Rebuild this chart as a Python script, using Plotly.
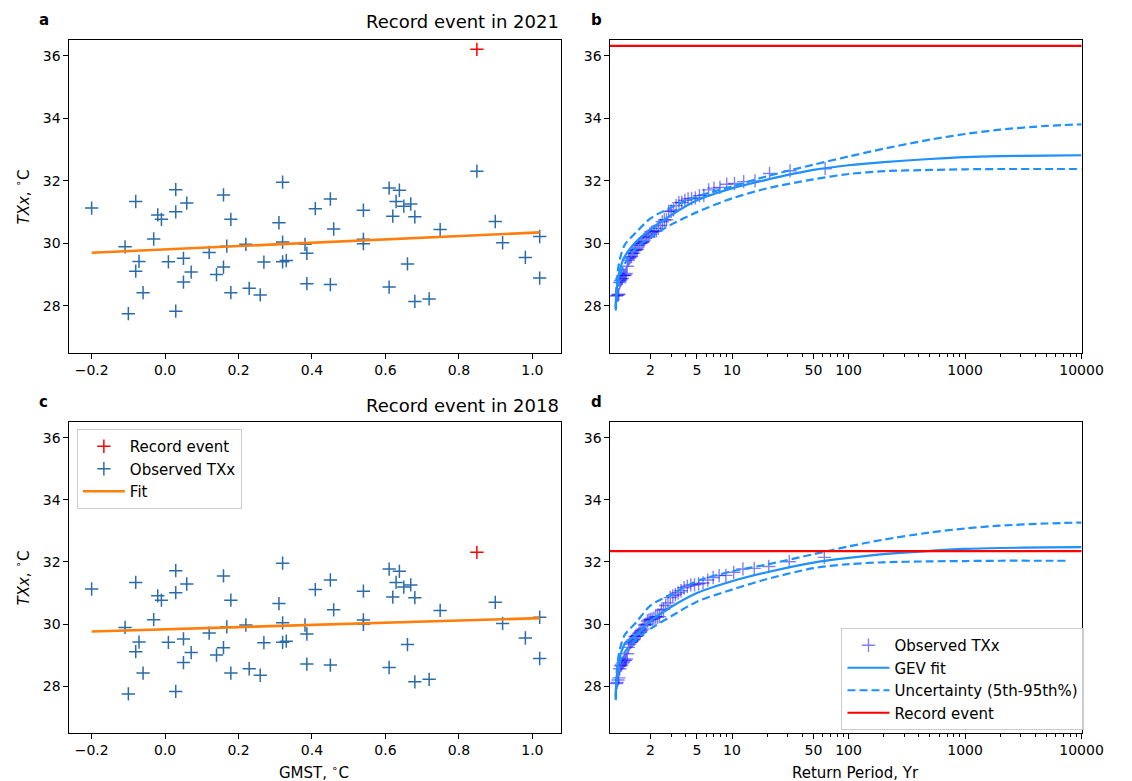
import plotly.graph_objects as go

# ---------------- data ----------------
gmst = [-0.200, -0.109, -0.100, -0.080, -0.080, -0.071, -0.060, -0.031, -0.020, -0.010,
        0.009, 0.029, 0.029, 0.029, 0.050, 0.050, 0.059, 0.071, 0.120, 0.140,
        0.159, 0.159, 0.168, 0.179, 0.179, 0.220, 0.229, 0.259, 0.269, 0.310,
        0.320, 0.320, 0.320, 0.330, 0.381, 0.386, 0.386, 0.409, 0.450, 0.459,
        0.450, 0.540, 0.540, 0.540, 0.610, 0.620, 0.610, 0.638, 0.629, 0.650,
        0.669, 0.680, 0.660, 0.680, 0.719, 0.749, 0.849, 0.899, 0.919, 0.981,
        1.020, 1.020]
txx = [31.13, 29.89, 27.75, 31.34, 29.11, 29.42, 28.42, 30.14, 30.91, 30.77,
       29.41, 31.72, 31.01, 27.83, 29.52, 28.76, 31.29, 29.08, 29.71, 29.00,
       31.55, 29.24, 29.91, 30.77, 28.42, 29.97, 28.56, 28.35, 29.40, 30.66,
       31.96, 30.04, 29.41, 29.45, 29.97, 29.68, 28.71, 31.11, 31.42, 30.46,
       28.68, 31.06, 30.13, 29.99, 31.77, 30.87, 28.60, 31.70, 31.34, 31.19,
       31.26, 30.85, 29.34, 28.14, 28.22, 30.44, 32.31, 30.70, 30.02, 29.55,
       30.22, 28.89]

record_2021_gmst = 0.849
record_2021_txx = 36.21
record_2018_idx = 56          # the 2018 record is one of the observed years

fit_gmst = [-0.2, 1.02]
fit_2021 = [29.70, 30.35]
fit_2018 = [29.76, 30.19]
ref_gmst_2021 = 1.0
ref_gmst_2018 = 0.85

rp = [1.005, 1.01, 1.02, 1.05, 1.1, 1.2, 1.5, 2, 3, 5, 10, 20, 50, 100, 200, 500,
      1000, 2000, 5000, 10000]
gev_2021 = [27.9, 28.15, 28.45, 28.85, 29.2, 29.58, 30.05, 30.45, 30.9, 31.38, 31.76,
            32.04, 32.35, 32.50, 32.60, 32.70, 32.76, 32.79, 32.81, 32.82]
gev_2021_hi = [27.95, 28.3, 28.65, 29.15, 29.55, 29.95, 30.35, 30.8, 31.15, 31.5, 31.82,
               32.15, 32.52, 32.78, 33.03, 33.32, 33.5, 33.64, 33.76, 33.81]
gev_2021_lo = [27.85, 28.05, 28.3, 28.65, 29.0, 29.35, 29.85, 30.2, 30.6, 31.0, 31.44,
               31.76, 32.05, 32.22, 32.31, 32.35, 32.37, 32.38, 32.38, 32.38]
gev_2018 = [27.6, 27.9, 28.2, 28.65, 29.0, 29.35, 29.65, 30.1, 30.55, 31.0, 31.38,
            31.67, 31.98, 32.13, 32.25, 32.36, 32.42, 32.45, 32.47, 32.48]
gev_2018_hi = [27.65, 28.0, 28.35, 28.85, 29.25, 29.65, 30.05, 30.6, 30.95, 31.38, 31.7,
               31.92, 32.25, 32.5, 32.72, 32.95, 33.08, 33.17, 33.24, 33.27]
rp_2018_lo = [1.005, 1.01, 1.02, 1.05, 1.1, 1.2, 1.5, 2, 3, 5, 10, 20, 50, 100, 200, 500,
              1000, 2000, 5000, 7500]
gev_2018_lo = [27.55, 27.8, 28.05, 28.45, 28.8, 29.1, 29.5, 29.85, 30.25, 30.72, 31.11,
               31.45, 31.8, 31.93, 31.99, 32.02, 32.03, 32.04, 32.04, 32.04]

record_line_2021 = 36.32
record_line_2018 = 32.35

x_ticks = [-0.2, 0.0, 0.2, 0.4, 0.6, 0.8, 1.0]
x_ticktext = ["\u22120.2", "0.0", "0.2", "0.4", "0.6", "0.8", "1.0"]
y_ticks = [28, 30, 32, 34, 36]
rp_ticks = [2, 5, 10, 50, 100, 1000, 10000]
rp_ticktext = ["2", "5", "10", "50", "100", "1000", "10000"]


# ---------------- helpers ----------------
def empirical_rp(g, t, fx, fy, ref):
    slope = (fy[1] - fy[0]) / (fx[1] - fx[0])
    adj = sorted([ti + slope * (ref - gi) for gi, ti in zip(g, t)], reverse=True)
    n = len(adj)
    return [(n + 1) / (k + 1) for k in range(n)], adj


gmst_2018 = [g for i, g in enumerate(gmst) if i != record_2018_idx]
txx_2018 = [t for i, t in enumerate(txx) if i != record_2018_idx]

rp_obs_2021, val_obs_2021 = empirical_rp(gmst, txx, fit_gmst, fit_2021, ref_gmst_2021)
rp_obs_2018, val_obs_2018 = empirical_rp(gmst_2018, txx_2018, fit_gmst, fit_2018, ref_gmst_2018)

W, H = 1132, 781
WX = 1112          # horizontal positions as they end up in the rendered page
FONT = "DejaVu Sans"
C_OBS = "#2b6ca8"
C_FIT = "#ff7f0e"
C_GEV = "#1e90ff"
C_RP_OBS = "rgba(0,0,255,0.5)"
DASH = "8px,4px"
MS = 9.5
MW = 1.5

fig = go.Figure()

# ---- panel a ----
fig.add_trace(go.Scatter(x=gmst, y=txx, mode="markers", xaxis="x", yaxis="y", showlegend=False,
                         marker=dict(symbol="cross-thin", size=MS, line=dict(width=MW, color=C_OBS))))
fig.add_trace(go.Scatter(x=[record_2021_gmst], y=[record_2021_txx], mode="markers", xaxis="x", yaxis="y",
                         showlegend=False,
                         marker=dict(symbol="cross-thin", size=MS, line=dict(width=MW, color="red"))))
fig.add_trace(go.Scatter(x=fit_gmst, y=fit_2021, mode="lines", xaxis="x", yaxis="y", showlegend=False,
                         line=dict(color=C_FIT, width=2.6)))

# ---- panel c ----
fig.add_trace(go.Scatter(x=[gmst[record_2018_idx]], y=[txx[record_2018_idx]], mode="markers",
                         xaxis="x3", yaxis="y3", name="Record event", legend="legend",
                         marker=dict(symbol="cross-thin", size=MS, line=dict(width=MW, color="red"))))
fig.add_trace(go.Scatter(x=gmst_2018, y=txx_2018, mode="markers", xaxis="x3", yaxis="y3",
                         name="Observed TXx", legend="legend",
                         marker=dict(symbol="cross-thin", size=MS, line=dict(width=MW, color=C_OBS))))
fig.add_trace(go.Scatter(x=fit_gmst, y=fit_2018, mode="lines", xaxis="x3", yaxis="y3", name="Fit",
                         legend="legend", line=dict(color=C_FIT, width=2.6)))


def rp_panel(xa, ya, rps, vals, fit, hi, lo, rp_lo, show):
    fig.add_trace(go.Scatter(x=rps, y=vals, mode="markers", xaxis=xa, yaxis=ya, name="Observed TXx",
                             legend="legend2", showlegend=show,
                             marker=dict(symbol="cross-thin", size=MS,
                                         line=dict(width=1.4, color=C_RP_OBS))))
    fig.add_trace(go.Scatter(x=rp, y=fit, mode="lines", xaxis=xa, yaxis=ya, name="GEV fit",
                             legend="legend2", showlegend=show,
                             line=dict(color=C_GEV, width=2.2, shape="spline", smoothing=0.8)))
    fig.add_trace(go.Scatter(x=rp, y=hi, mode="lines", xaxis=xa, yaxis=ya,
                             name="Uncertainty (5th-95th%)", legend="legend2", showlegend=show,
                             line=dict(color=C_GEV, width=2.2, dash=DASH, shape="spline", smoothing=0.8)))
    fig.add_trace(go.Scatter(x=rp_lo, y=lo, mode="lines", xaxis=xa, yaxis=ya, showlegend=False,
                             legend="legend2",
                             line=dict(color=C_GEV, width=2.2, dash=DASH, shape="spline", smoothing=0.8)))


rp_panel("x2", "y2", rp_obs_2021, val_obs_2021, gev_2021, gev_2021_hi, gev_2021_lo, rp, False)
rp_panel("x4", "y4", rp_obs_2018, val_obs_2018, gev_2018, gev_2018_hi, gev_2018_lo, rp_2018_lo, True)
fig.add_trace(go.Scatter(x=[None], y=[None], mode="lines", xaxis="x4", yaxis="y4", name="Record event",
                         legend="legend2", line=dict(color="red", width=2.2)))

fig.add_shape(type="line", xref="x2 domain", x0=0, x1=1, yref="y2", y0=record_line_2021,
              y1=record_line_2021, line=dict(color="red", width=2.2))
fig.add_shape(type="line", xref="x4 domain", x0=0, x1=1, yref="y4", y0=record_line_2018,
              y1=record_line_2018, line=dict(color="red", width=2.2))

# ---------------- layout ----------------
xL = [69 / WX, 562 / WX]
xR = [611 / WX, 1103 / W]     # right edge kept so the "10000" label stays inside the page
yT = [1 - 353 / H, 1 - 40 / H]
yB = [1 - 733 / H, 1 - 422 / H]

common = dict(showline=True, mirror=True, linecolor="black", linewidth=1, ticks="outside",
              ticklen=4.5, tickwidth=1, tickcolor="black", showgrid=False, zeroline=False,
              tickfont=dict(family=FONT, size=14, color="black"))

lin_x = dict(common, range=[-0.262, 1.078], tickmode="array", tickvals=x_ticks, ticktext=x_ticktext)
minor_vals = [k * d for d in (1, 10, 100, 1000) for k in range(2, 10) if k * d not in rp_ticks]
log_x = dict(common, type="log", range=[-0.048, 4.0], tickmode="array", tickvals=rp_ticks,
             ticktext=rp_ticktext,
             minor=dict(ticks="outside", ticklen=2.5, tickcolor="black", tickmode="array",
                        tickvals=minor_vals))
yax = dict(common, range=[26.49, 36.51], tickmode="array", tickvals=y_ticks)

fig.update_layout(
    width=W, height=H, margin=dict(l=0, r=0, t=0, b=0), autosize=False,
    paper_bgcolor="white", plot_bgcolor="white",
    font=dict(family=FONT, size=14, color="black"),
    xaxis=dict(lin_x, domain=xL, anchor="y"),
    yaxis=dict(yax, domain=yT, anchor="x"),
    xaxis2=dict(log_x, domain=xR, anchor="y2"),
    yaxis2=dict(yax, domain=yT, anchor="x2"),
    xaxis3=dict(lin_x, domain=xL, anchor="y3"),
    yaxis3=dict(yax, domain=yB, anchor="x3"),
    xaxis4=dict(log_x, domain=xR, anchor="y4"),
    yaxis4=dict(yax, domain=yB, anchor="x4"),
    legend=dict(x=77 / WX, y=1 - 429 / H, xanchor="left", yanchor="top", itemwidth=42,
                bgcolor="rgba(255,255,255,0.8)", bordercolor="#cccccc", borderwidth=1,
                font=dict(family=FONT, size=15, color="black"), tracegroupgap=0),
    legend2=dict(x=843 / WX, y=1 - 628 / H, xanchor="left", yanchor="top", itemwidth=42,
                 bgcolor="rgba(255,255,255,0.8)", bordercolor="#cccccc", borderwidth=1,
                 font=dict(family=FONT, size=15, color="black"), tracegroupgap=0),
)

ann = []
for txt, x, y in [("a", 37, 20), ("b", 590, 20), ("c", 37, 402), ("d", 590, 402)]:
    ann.append(dict(text="<b>%s</b>" % txt, x=x / WX, y=1 - y / H, xref="paper", yref="paper",
                    xanchor="left", yanchor="middle", showarrow=False,
                    font=dict(family=FONT, size=15, color="black")))
for txt, y in [("Record event in 2021", 22), ("Record event in 2018", 405)]:
    ann.append(dict(text=txt, x=562 / WX, y=1 - y / H, xref="paper", yref="paper", xanchor="right",
                    yanchor="middle", showarrow=False, font=dict(family=FONT, size=18, color="black")))
for y in [196.5, 577.5]:
    ann.append(dict(text="<i>TXx</i>, <sup>\u2218</sup>C", x=22 / WX, y=1 - y / H, xref="paper",
                    yref="paper", xanchor="center", yanchor="middle", textangle=-90, showarrow=False,
                    font=dict(family=FONT, size=15, color="black")))
ann.append(dict(text="GMST, <sup>\u2218</sup>C", x=315 / WX, y=1 - 772 / H, xref="paper", yref="paper",
                xanchor="center", yanchor="middle", showarrow=False,
                font=dict(family=FONT, size=15, color="black")))
ann.append(dict(text="Return Period, Yr", x=857 / WX, y=1 - 773 / H, xref="paper", yref="paper",
                xanchor="center", yanchor="middle", showarrow=False,
                font=dict(family=FONT, size=15, color="black")))
fig.update_layout(annotations=ann)

fig.write_html(
    "out.html",
    config={"displayModeBar": False, "responsive": False},
    post_script=("document.documentElement.style.margin='0';"
                 "document.documentElement.style.overflow='hidden';"
                 "document.body.style.margin='0';document.body.style.overflow='hidden';"),
)
